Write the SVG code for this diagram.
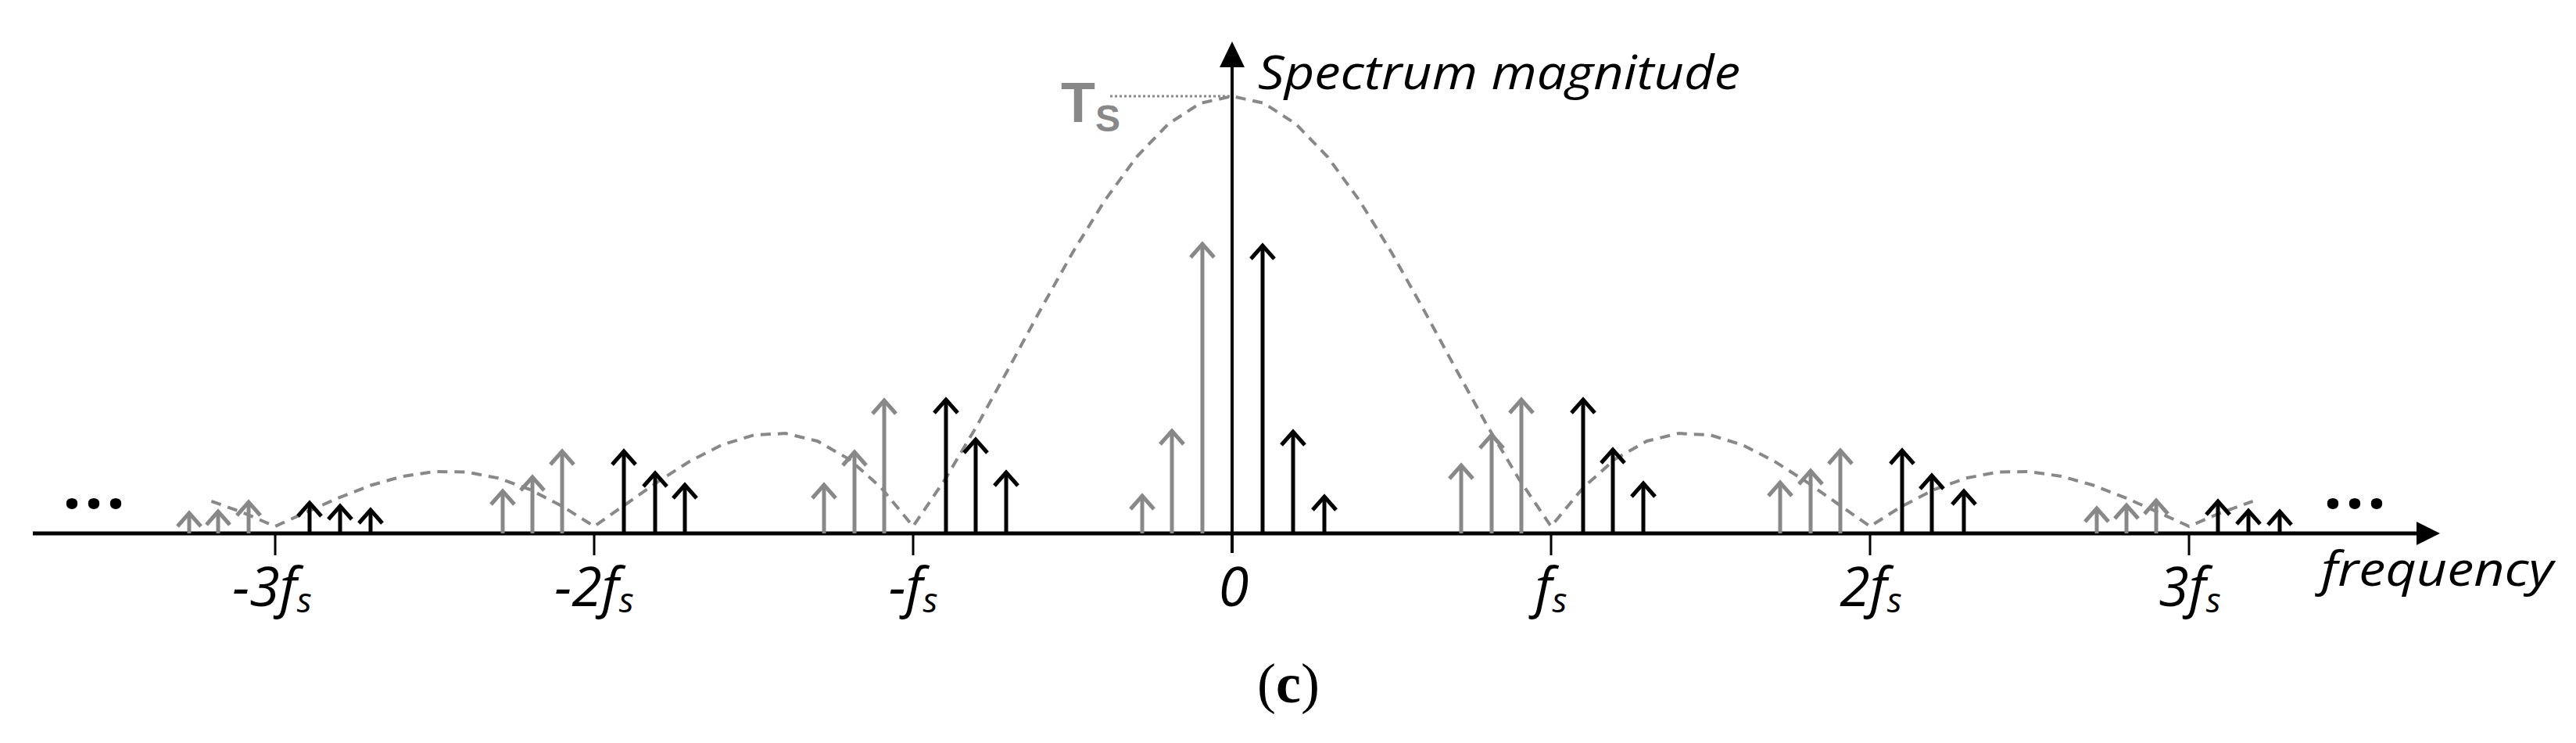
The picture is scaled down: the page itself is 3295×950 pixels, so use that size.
<svg xmlns="http://www.w3.org/2000/svg" width="3295" height="950" viewBox="0 0 3295 950">
<style>
.blk{stroke:#000;stroke-width:5;fill:none;marker-end:url(#hb)}
.gry{stroke:#888;stroke-width:5;fill:none;marker-end:url(#hg)}
.tick{stroke:#000;stroke-width:3}
.lbl{font-family:"Open Sans","Liberation Sans",sans-serif;font-style:italic;font-size:70px;fill:#000;text-anchor:middle}
.sub{font-size:44px}
.dots{font-family:"Open Sans","Liberation Sans",sans-serif;font-weight:bold;font-size:84px;letter-spacing:4px;fill:#000}
</style>
<defs>
<marker id="hb" markerUnits="userSpaceOnUse" viewBox="-20 -20 24 40" refX="0" refY="0" markerWidth="24" markerHeight="40" orient="auto" overflow="visible"><path d="M-17,-15 L0,0 L-17,15" stroke="#000" stroke-width="5" fill="none"/></marker>
<marker id="hg" markerUnits="userSpaceOnUse" viewBox="-20 -20 24 40" refX="0" refY="0" markerWidth="24" markerHeight="40" orient="auto" overflow="visible"><path d="M-17,-15 L0,0 L-17,15" stroke="#888" stroke-width="5" fill="none"/></marker>
</defs>
<rect width="3295" height="950" fill="#fff"/>
<g id="envelope">
<polyline fill="none" stroke="#888" stroke-width="4" stroke-dasharray="13 9" points="270.4,640.8 311.2,655.6 352,673 392.8,654.4 433.6,636.3 474.4,620.5 515.2,609 556,603 596.8,603.6 637.6,611.4 678.4,626.2 719.2,647.3 760,673 800.8,644.5 841.6,615.9 882.4,589.7 923.2,568.9 964,556.3 1004.8,554.1 1045.6,564 1086.4,587.3 1127.2,623.8 1168,673 1208.8,612.9 1249.6,544.4 1290.4,470.7 1331.2,395.5 1372,322.9 1412.8,256.8 1453.6,200.9 1494.4,158.5 1535.2,132 1576,123 1616.8,132 1657.6,158.5 1698.4,200.9 1739.2,256.8 1780,322.9 1820.8,395.5 1861.6,470.7 1902.4,544.4 1943.2,612.9 1984,673 2024.8,623.8 2065.6,587.3 2106.4,564 2147.2,554.1 2188,556.3 2228.8,568.9 2269.6,589.7 2310.4,615.9 2351.2,644.5 2392,673 2432.8,647.3 2473.6,626.2 2514.4,611.4 2555.2,603.6 2596,603 2636.8,609 2677.6,620.5 2718.4,636.3 2759.2,654.4 2800,673 2840.8,655.6 2881.6,640.8"/>
</g>
<g id="connectors">
<line x1="42" y1="682" x2="3093" y2="682" stroke="#000" stroke-width="5"/>
<polygon points="3121,682 3091,667 3091,697" fill="#000"/>
<line x1="1576" y1="707" x2="1576" y2="84" stroke="#000" stroke-width="4"/>
<polygon points="1576,53 1560,86 1592,86" fill="#000"/>
<line class="tick" x1="352" y1="682" x2="352" y2="710"/>
<line class="tick" x1="760" y1="682" x2="760" y2="710"/>
<line class="tick" x1="1168" y1="682" x2="1168" y2="710"/>
<line class="tick" x1="1984" y1="682" x2="1984" y2="710"/>
<line class="tick" x1="2392" y1="682" x2="2392" y2="710"/>
<line class="tick" x1="2800" y1="682" x2="2800" y2="710"/>
<line x1="1420" y1="123" x2="1576" y2="123" stroke="#888" stroke-width="3" stroke-dasharray="3 3"/>
</g>
<g id="impulses-gray">
<line class="gry" x1="242" y1="682" x2="242" y2="656"/>
<line class="gry" x1="279" y1="682" x2="279" y2="654"/>
<line class="gry" x1="318" y1="682" x2="318" y2="642"/>
<line class="gry" x1="643" y1="682" x2="643" y2="628"/>
<line class="gry" x1="681" y1="682" x2="681" y2="610"/>
<line class="gry" x1="719" y1="682" x2="719" y2="577"/>
<line class="gry" x1="1054" y1="682" x2="1054" y2="620"/>
<line class="gry" x1="1093" y1="682" x2="1093" y2="578"/>
<line class="gry" x1="1131" y1="682" x2="1131" y2="512"/>
<line class="gry" x1="1461" y1="682" x2="1461" y2="634"/>
<line class="gry" x1="1499" y1="682" x2="1499" y2="551"/>
<line class="gry" x1="1538" y1="682" x2="1538" y2="312"/>
<line class="gry" x1="1869" y1="682" x2="1869" y2="595"/>
<line class="gry" x1="1908" y1="682" x2="1908" y2="556"/>
<line class="gry" x1="1946" y1="682" x2="1946" y2="511"/>
<line class="gry" x1="2277" y1="682" x2="2277" y2="617"/>
<line class="gry" x1="2316" y1="682" x2="2316" y2="602"/>
<line class="gry" x1="2354" y1="682" x2="2354" y2="576"/>
<line class="gry" x1="2682" y1="682" x2="2682" y2="650"/>
<line class="gry" x1="2720" y1="682" x2="2720" y2="646"/>
<line class="gry" x1="2758" y1="682" x2="2758" y2="640"/>
</g>
<g id="impulses-black">
<line class="blk" x1="396" y1="682" x2="396" y2="643"/>
<line class="blk" x1="435" y1="682" x2="435" y2="647"/>
<line class="blk" x1="474" y1="682" x2="474" y2="652"/>
<line class="blk" x1="798" y1="682" x2="798" y2="577"/>
<line class="blk" x1="838" y1="682" x2="838" y2="605"/>
<line class="blk" x1="876" y1="682" x2="876" y2="620"/>
<line class="blk" x1="1210" y1="682" x2="1210" y2="511"/>
<line class="blk" x1="1248" y1="682" x2="1248" y2="562"/>
<line class="blk" x1="1287" y1="682" x2="1287" y2="604"/>
<line class="blk" x1="1615" y1="682" x2="1615" y2="314"/>
<line class="blk" x1="1654" y1="682" x2="1654" y2="552"/>
<line class="blk" x1="1694" y1="682" x2="1694" y2="635"/>
<line class="blk" x1="2025" y1="682" x2="2025" y2="511"/>
<line class="blk" x1="2063" y1="682" x2="2063" y2="575"/>
<line class="blk" x1="2102" y1="682" x2="2102" y2="618"/>
<line class="blk" x1="2433" y1="682" x2="2433" y2="576"/>
<line class="blk" x1="2471" y1="682" x2="2471" y2="608"/>
<line class="blk" x1="2512" y1="682" x2="2512" y2="628"/>
<line class="blk" x1="2837" y1="682" x2="2837" y2="641"/>
<line class="blk" x1="2876" y1="682" x2="2876" y2="653"/>
<line class="blk" x1="2916" y1="682" x2="2916" y2="654"/>
</g>
<g id="labels">
<text class="lbl" x="348" y="775">-3<tspan>f</tspan><tspan class="sub" dy="8">s</tspan></text>
<text class="lbl" x="760" y="775">-2<tspan>f</tspan><tspan class="sub" dy="8">s</tspan></text>
<text class="lbl" x="1168" y="775">-<tspan>f</tspan><tspan class="sub" dy="8">s</tspan></text>
<text class="lbl" x="1578" y="775">0</text>
<text class="lbl" x="1984" y="775"><tspan>f</tspan><tspan class="sub" dy="8">s</tspan></text>
<text class="lbl" x="2393" y="775">2<tspan>f</tspan><tspan class="sub" dy="8">s</tspan></text>
<text class="lbl" x="2801" y="775">3<tspan>f</tspan><tspan class="sub" dy="8">s</tspan></text>
<text class="lbl" x="2969" y="749" style="text-anchor:start;font-size:60px" textLength="297" lengthAdjust="spacingAndGlyphs">frequency</text>
<text class="lbl" x="1609" y="114" style="text-anchor:start;font-size:60px" textLength="617" lengthAdjust="spacingAndGlyphs">Spectrum magnitude</text>
<text x="1357" y="156" font-family="Liberation Sans Narrow,Liberation Sans,sans-serif" font-weight="bold" font-size="72" fill="#888">T<tspan font-size="48" dy="12">S</tspan></text>
<text class="dots" x="80" y="650">...</text>
<text class="dots" x="2972" y="650">...</text>
<text x="1648" y="898" font-family="Liberation Serif,serif" font-size="72" text-anchor="middle">(<tspan font-weight="bold">c</tspan>)</text>
</g>
</svg>
